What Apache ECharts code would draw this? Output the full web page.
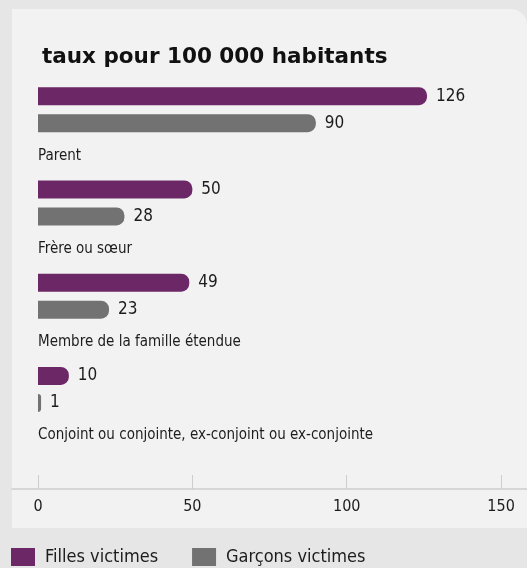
<!DOCTYPE html>
<html>
<head>
<meta charset="utf-8">
<script src="https://cdn.jsdelivr.net/npm/echarts@6/dist/echarts.min.js"></script>
<style>
  html, body { margin: 0; padding: 0; background: #e6e6e6; }
  #main { width: 527px; height: 568px; }
</style>
</head>
<body>
<div id="main"></div>
<script>
// données
var categories = ['Parent', 'Frère ou sœur', 'Membre de la famille étendue', 'Conjoint ou conjointe, ex-conjoint ou ex-conjointe'];
var filles = [126, 50, 49, 10];
var garcons = [90, 28, 23, 1];
var ticks = [0, 50, 100, 150];

var narrow = "'Liberation Sans Narrow', 'DejaVu Sans Condensed', 'Roboto Condensed', sans-serif";
var violet = '#6c2866';
var gris = '#727272';

var myChart = echarts.init(document.getElementById('main'));

var option = {
  backgroundColor: '#e6e6e6',
  animation: false,
  title: {
    text: 'taux pour 100 000 habitants',
    left: 37,
    top: 41,
    textStyle: {
      fontFamily: "'DejaVu Sans', sans-serif",
      fontWeight: 'bold',
      fontSize: 21.5,
      color: '#111'
    }
  },
  // fond du panneau
  graphic: [
    {
      type: 'rect',
      z: -10,
      shape: { x: 12, y: 9, width: 515, height: 519, r: [0, 16, 0, 0] },
      style: { fill: '#f2f2f2' }
    }
  ],
  legend: {
    left: 6,
    top: 543,
    itemWidth: 24,
    itemHeight: 18,
    itemGap: 34,
    icon: 'rect',
    textStyle: {
      fontFamily: narrow,
      fontSize: 18,
      color: '#1c1c1c',
      padding: [0, 0, 0, 5]
    },
    data: ['Filles victimes', 'Garçons victimes']
  },
  grid: {
    left: 12,
    right: 0,
    top: 63,
    height: 373,
    containLabel: false
  },
  xAxis: {
    type: 'value',
    min: -8.42,
    max: 158.4,
    offset: 53,
    splitLine: { show: false },
    axisLine: { show: true, lineStyle: { color: '#cdcdcd', width: 1.5 } },
    axisTick: {
      show: true,
      inside: true,
      length: 14,
      customValues: ticks,
      lineStyle: { color: '#cdcdcd', width: 1 }
    },
    axisLabel: {
      customValues: ticks,
      margin: 10,
      fontFamily: narrow,
      fontSize: 16,
      color: '#1c1c1c'
    }
  },
  yAxis: {
    type: 'category',
    inverse: true,
    data: categories,
    axisLine: { show: false, onZero: false },
    axisTick: { show: false },
    axisLabel: {
      inside: true,
      margin: 26,
      verticalAlign: 'top',
      lineHeight: 92,
      fontFamily: narrow,
      fontSize: 15,
      color: '#1c1c1c'
    }
  },
  series: [
    {
      name: 'Filles victimes',
      type: 'bar',
      data: filles,
      barWidth: 18,
      barGap: '50%',
      itemStyle: { color: violet, borderRadius: [0, 8, 8, 0] },
      label: {
        show: true,
        position: 'right',
        distance: 9,
        fontFamily: narrow,
        fontSize: 17,
        color: '#1c1c1c'
      }
    },
    {
      name: 'Garçons victimes',
      type: 'bar',
      data: garcons,
      barWidth: 18,
      barGap: '50%',
      itemStyle: { color: gris, borderRadius: [0, 8, 8, 0] },
      label: {
        show: true,
        position: 'right',
        distance: 9,
        fontFamily: narrow,
        fontSize: 17,
        color: '#1c1c1c'
      }
    }
  ]
};

myChart.setOption(option);
</script>
</body>
</html>
